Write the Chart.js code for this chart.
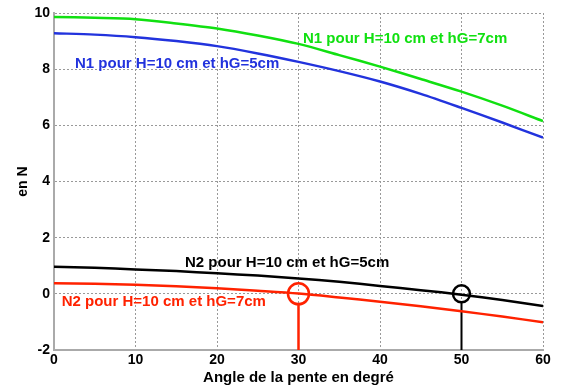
<!DOCTYPE html>
<html>
<head>
<meta charset="utf-8">
<script src="https://cdn.jsdelivr.net/npm/chart.js@4"></script>
<style>
  html, body { margin: 0; padding: 0; background: #fff; }
  #wrap { width: 564px; height: 385px; }
</style>
</head>
<body>
<div id="wrap"><canvas id="myChart" width="564" height="385"></canvas></div>
<script>
// angle de la pente (degres)
const angles = [0, 5, 10, 15, 20, 25, 30, 35, 40, 45, 50, 55, 60];
// N1 hG=7cm (vert), N1 hG=5cm (bleu), N2 hG=5cm (noir), N2 hG=7cm (rouge)
const n1_hg7 = [9.86, 9.83, 9.78, 9.63, 9.45, 9.2, 8.9, 8.5, 8.09, 7.65, 7.2, 6.7, 6.15];
const n1_hg5 = [9.28, 9.23, 9.14, 9.0, 8.82, 8.56, 8.26, 7.93, 7.56, 7.12, 6.62, 6.1, 5.56];
const n2_hg5 = [0.96, 0.93, 0.87, 0.81, 0.73, 0.65, 0.55, 0.43, 0.28, 0.13, -0.03, -0.22, -0.43];
const n2_hg7 = [0.38, 0.36, 0.32, 0.27, 0.2, 0.11, 0.01, -0.13, -0.28, -0.44, -0.62, -0.81, -1.01];

const xTicks = [0, 10, 20, 30, 40, 50, 60];
const yTicks = [-2, 0, 2, 4, 6, 8, 10];

// points ou N2 s'annule (cercles) et traits verticaux
const zeroRed = {x: 30, y: 0};
const zeroBlack = {x: 50, y: 0};
const dropRed = [{x: 30, y: -2}, {x: 30, y: -0.32}];
const dropBlack = [{x: 50, y: -2}, {x: 50, y: -0.28}];

// etiquettes des courbes: [texte, x, y, couleur]
const labels = [
  ['N1 pour H=10 cm et hG=7cm', 30.55, 9.08, '#11e011'],
  ['N1 pour H=10 cm et hG=5cm', 2.58, 8.2, '#2233dd'],
  ['N2 pour H=10 cm et hG=5cm', 16.07, 1.11, '#000000'],
  ['N2 pour H=10 cm et hG=7cm', 0.94, -0.27, '#ff2200']
];

function pts(ys) {
  let result = [];
  for (let i = 0; i != angles.length; i++) result.push({x: angles[i], y: ys[i]});
  return result;
}

function curve(ys, color) {
  return {
    data: pts(ys),
    borderColor: color,
    borderWidth: 2.5,
    pointRadius: 0,
    tension: 0.3,
    fill: false
  };
}

const textPlugin = {
  id: 'curveLabels',
  afterDatasetsDraw(chart) {
    const c = chart.ctx;
    const xs = chart.scales.x, ys = chart.scales.y;
    c.save();
    c.font = 'bold 15px "Liberation Sans", Arial, sans-serif';
    c.textAlign = 'left';
    c.textBaseline = 'middle';
    labels.forEach(l => {
      c.fillStyle = l[3];
      c.fillText(l[0], xs.getPixelForValue(l[1]), ys.getPixelForValue(l[2]));
    });
    c.restore();
  }
};

const tickFont = {family: '"Liberation Sans", Arial, sans-serif', size: 14, weight: 'bold'};

var ctx = document.getElementById('myChart').getContext('2d');
var myChart = new Chart(ctx, {
  type: 'line',
  data: {
    datasets: [
      curve(n1_hg7, '#11e011'),
      curve(n1_hg5, '#2233dd'),
      curve(n2_hg5, '#000000'),
      curve(n2_hg7, '#ff2200'),
      {data: dropRed, borderColor: '#ff2200', borderWidth: 2.5, pointRadius: 0},
      {data: dropBlack, borderColor: '#000000', borderWidth: 2, pointRadius: 0},
      {data: [zeroRed], showLine: false, pointRadius: 10.5, pointStyle: 'circle',
       pointBorderColor: '#ff2200', pointBackgroundColor: 'rgba(0,0,0,0)', pointBorderWidth: 2.5},
      {data: [zeroBlack], showLine: false, pointRadius: 8.5, pointStyle: 'circle',
       pointBorderColor: '#000000', pointBackgroundColor: 'rgba(0,0,0,0)', pointBorderWidth: 2.5}
    ]
  },
  options: {
    responsive: false,
    animation: false,
    layout: {padding: {top: 9, right: 21, left: 0, bottom: 0}},
    plugins: {legend: {display: false}, tooltip: {enabled: false}},
    scales: {
      x: {
        type: 'linear',
        min: 0, max: 60,
        afterBuildTicks: s => { s.ticks = xTicks.map(v => ({value: v})); },
        afterFit: s => { s.height = 35; },
        ticks: {color: '#000', font: tickFont, padding: 2, maxRotation: 0},
        grid: {color: '#999', drawTicks: false, lineWidth: 1},
        border: {display: true, color: '#aaa', width: 2, dash: [2, 2]},
        title: {display: true, text: 'Angle de la pente en degré', color: '#000',
                font: {family: '"Liberation Sans", Arial, sans-serif', size: 15, weight: 'bold', lineHeight: 1},
                padding: {top: 0, bottom: 0}}
      },
      y: {
        type: 'linear',
        min: -2, max: 10,
        afterBuildTicks: s => { s.ticks = yTicks.map(v => ({value: v})); },
        afterFit: s => { s.width = 54; },
        ticks: {color: '#000', font: tickFont, padding: 4},
        grid: {color: '#999', drawTicks: false, lineWidth: 1},
        border: {display: true, color: '#aaa', width: 2, dash: [2, 2]},
        title: {display: true, text: 'en N', color: '#000',
                font: {family: '"Liberation Sans", Arial, sans-serif', size: 14, weight: 'bold', lineHeight: 1},
                padding: {top: 16, bottom: 16}}
      }
    }
  },
  plugins: [textPlugin]
});
</script>
</body>
</html>
